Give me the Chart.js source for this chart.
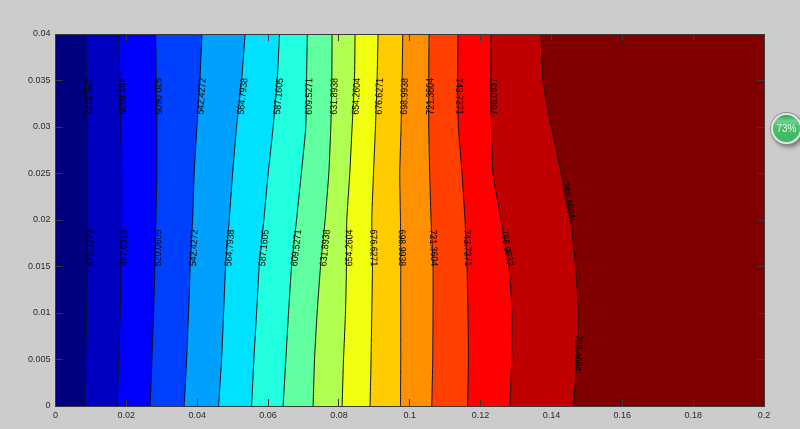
<!DOCTYPE html>
<html>
<head>
<meta charset="utf-8">
<script src="https://cdn.jsdelivr.net/npm/chart.js@4"></script>
<style>
  html, body { margin: 0; padding: 0; background: #cccccc; overflow: hidden; }
  #wrap { position: relative; width: 800px; height: 429px; overflow: hidden; }
  #c { filter: blur(0.4px); }
  #badge-tab { position: absolute; left: 792px; top: 116px; width: 20px; height: 22px; background: #c9c9c9; border-radius: 4px; box-shadow: 0 1px 3px rgba(0,0,0,0.35); }
  #badge { position: absolute; left: 771px; top: 113px; width: 27px; height: 27px; border: 2px solid #dfe4df; border-radius: 50%;
    background: linear-gradient(#2f9e55 0%, #6ed08a 22%, #48c06a 45%, #3cb95f 100%);
    box-shadow: 0 0 0 1px #8a8f8a, 2px 3px 4px rgba(0,0,0,0.45); color: #e8f4ea; font: 10px/27px "Liberation Sans", sans-serif; text-align: center; }
</style>
</head>
<body>
<div id="wrap">
  <canvas id="c" width="800" height="429"></canvas>
  <div id="badge-tab"></div>
  <div id="badge">73%</div>
</div>
<script>
(function () {
  'use strict';

  var yLevels = [0, 0.005, 0.01, 0.015, 0.02, 0.025, 0.03, 0.035, 0.04];

  var c475 = [.00824, .00852, .0088, .00897, .00908, .00908, .00897, .00869, .00852];
  var c497 = [.01743, .01783, .01828, .01848, .01867, .01867, .01848, .01819, .01783];
  var c520 = [.02674, .02722, .0277, .02807, .02835, .02863, .02863, .02843, .02827];
  var c542 = [.03633, .03701, .03757, .03803, .0387, .03915, .03992, .04076, .04133];
  var c565 = [.04604, .04688, .04745, .04801, .04903, .04999, .05111, .05252, .05354];
  var c587 = [.05535, .056, .05676, .05749, .05882, .06003, .06144, .06257, .06324];
  var c610 = [.06426, .06502, .06578, .06663, .06804, .06939, .07066, .07086, .07109];
  var c632 = [.07272, .07312, .07385, .07481, .07611, .07715, .07772, .078, .07808];
  var c654 = [.0809, .0813, .08186, .08214, .08223, .08307, .08373, .0844, .08457];
  var c677 = [.0888, .08908, .08928, .08948, .08928, .08976, .09032, .09078, .09106];
  var c699 = [.09738, .09746, .09746, .09746, .09738, .09718, .09755, .09783, .09803];
  var c721 = [.10621, .10649, .10657, .10657, .10601, .10564, .10536, .10536, .10544];
  var c744 = [.11636, .11656, .11645, .11616, .1156, .11475, .11374, .11354, .11362];
  var c766 = [.12829, .12877, .12886, .12801, .12576, .1235, .12305, .12293, .12293];
  var c788 = [.14626, .14711, .14759, .14683, .14542, .14279, .13997, .1376, .13704];

  var contours = [c475, c497, c520, c542, c565, c587, c610, c632, c654, c677, c699, c721, c744, c766, c788];
  var contourLabels = ['475.3272', '497.6939', '520.0605', '542.4272', '564.7938', '587.1605', '609.5271',
    '631.8938', '654.2604', '676.6271', '698.9938', '721.3604', '743.7271', '766.0937', '788.4604'];

  // value on the y axis where each label sits, and whether the text reads downwards
  var upperLabelY = [.0333, .0333, .0333, .0333, .0333, .0333, .0333, .0333, .0333, .0333, .0333, .0333, .0333, .0333, .0221];
  var lowerLabelY = [.017, .017, .017, .017, .017, .017, .017, .017, .017, .017, .017, .017, .017, .017, .0057];
  var upperFlip = [1, 1, 1, 0, 0, 0, 0, 0, 0, 0, 0, 0, 1, 0, 1];
  var lowerFlip = [0, 0, 0, 0, 0, 0, 0, 0, 0, 1, 1, 1, 1, 1, 1];

  var bandColors = ['#000080', '#0000c0', '#0000ff', '#0040ff', '#00a0ff', '#00e0ff', '#20ffdf', '#60ff9f',
    '#b0ff50', '#f0ff10', '#ffcc00', '#ff9000', '#ff4000', '#ff0000', '#c00000', '#800000'];

  var xTickLabels = ['0', '0.02', '0.04', '0.06', '0.08', '0.1', '0.12', '0.14', '0.16', '0.18', '0.2'];
  var yTickLabels = ['0', '0.005', '0.01', '0.015', '0.02', '0.025', '0.03', '0.035', '0.04'];

  var TICK_FONT = { family: '"Liberation Sans", Arial, sans-serif', size: 9 };
  var EDGE = '#3a3a3a';

  function toPoints(xs) {
    return xs.map(function (x, i) { return { x: x, y: yLevels[i] }; });
  }

  // left edge carries the first band, each contour then paints everything to its right
  var datasets = [{
    data: toPoints(yLevels.map(function () { return 0; })),
    borderWidth: 0,
    pointRadius: 0,
    backgroundColor: bandColors[0],
    fill: { value: 0.2 },
    order: contours.length + 1
  }];
  contours.forEach(function (xs, i) {
    datasets.push({
      data: toPoints(xs),
      borderColor: '#111111',
      borderWidth: 1,
      pointRadius: 0,
      tension: 0.15,
      backgroundColor: bandColors[i + 1],
      fill: { value: 0.2 },
      order: contours.length - i
    });
  });

  function drawLabel(chart, idx, yVal, flip) {
    var xs = contours[idx];
    var sx = chart.scales.x, sy = chart.scales.y, ctx = chart.ctx;
    var k = 0;
    while (k < yLevels.length - 2 && yLevels[k + 1] < yVal) k++;
    var t = (yVal - yLevels[k]) / (yLevels[k + 1] - yLevels[k]);
    var xVal = xs[k] + (xs[k + 1] - xs[k]) * t;
    var dx = sx.getPixelForValue(xs[k + 1]) - sx.getPixelForValue(xs[k]);
    var dy = sy.getPixelForValue(yLevels[k + 1]) - sy.getPixelForValue(yLevels[k]);
    var angle = Math.atan2(dy, dx) + (flip ? Math.PI : 0);
    ctx.save();
    // the text sits a little to the right of its line, more so when it reads upwards
    ctx.translate(sx.getPixelForValue(xVal) + (flip ? 1 : 3), sy.getPixelForValue(yVal));
    ctx.rotate(angle);
    ctx.scale(0.88, 1);
    ctx.fillStyle = '#000000';
    ctx.font = '10px "Liberation Sans", Arial, sans-serif';
    ctx.textAlign = 'center';
    ctx.textBaseline = 'middle';
    ctx.fillText(contourLabels[idx], 0, 0);
    ctx.restore();
  }

  var contourLabelPlugin = {
    id: 'contourLabels',
    afterDatasetsDraw: function (chart) {
      for (var i = 0; i < contours.length; i++) {
        drawLabel(chart, i, upperLabelY[i], upperFlip[i]);
        drawLabel(chart, i, lowerLabelY[i], lowerFlip[i]);
      }
    }
  };

  function axisGrid() {
    return { drawOnChartArea: false, drawTicks: true, tickLength: -7, color: EDGE, z: 1 };
  }

  function xAxis(position, showLabels, size) {
    return {
      type: 'linear', position: position, min: 0, max: 0.2,
      afterBuildTicks: function (axis) {
        axis.ticks = xTickLabels.map(function (l) { return { value: parseFloat(l) }; });
      },
      grid: axisGrid(),
      border: { color: EDGE, width: 1, z: 2 },
      ticks: {
        display: showLabels, color: '#2b2b2b', font: TICK_FONT, padding: 11, maxRotation: 0, autoSkip: false,
        callback: function (v, i) { return xTickLabels[i]; }
      },
      afterFit: function (axis) { axis.height = size; }
    };
  }

  function yAxis(position, showLabels, size) {
    return {
      type: 'linear', position: position, min: 0, max: 0.04,
      afterBuildTicks: function (axis) {
        axis.ticks = yTickLabels.map(function (l) { return { value: parseFloat(l) }; });
      },
      grid: axisGrid(),
      border: { color: EDGE, width: 1, z: 2 },
      ticks: {
        display: showLabels, color: '#2b2b2b', font: TICK_FONT, padding: 12, autoSkip: false,
        callback: function (v, i) { return yTickLabels[i]; }
      },
      afterFit: function (axis) { axis.width = size; }
    };
  }

  new Chart(document.getElementById('c'), {
    type: 'line',
    data: { datasets: datasets },
    plugins: [contourLabelPlugin],
    options: {
      indexAxis: 'y',
      responsive: false,
      animation: false,
      events: [],
      layout: { padding: { top: 34, right: 36, left: 0, bottom: 0 } },
      plugins: { legend: { display: false }, tooltip: { enabled: false } },
      scales: {
        x: xAxis('bottom', true, 23),
        y: yAxis('left', true, 55.5),
        x2: xAxis('top', false, 0),
        y2: yAxis('right', false, 0)
      }
    }
  });
})();
</script>
</body>
</html>
